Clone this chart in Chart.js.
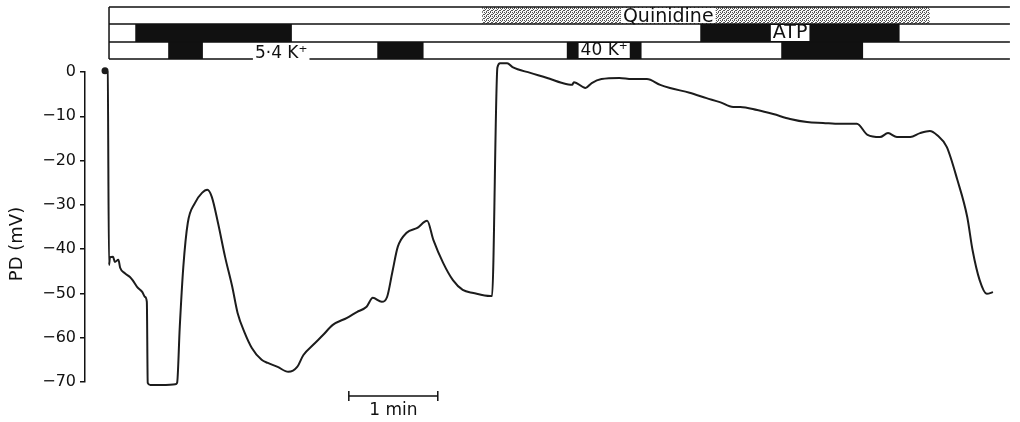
<!DOCTYPE html>
<html>
<head>
<meta charset="utf-8">
<script src="https://cdn.jsdelivr.net/npm/chart.js@4.4.0/dist/chart.umd.min.js"></script>
<style>
	html, body { margin: 0; padding: 0; background: #fff; }
	#wrap { width: 1020px; height: 422px; position: relative; }
</style>
</head>
<body>
<div id="wrap"><canvas id="trace"></canvas></div>
<script>
// time in minutes, potential difference in mV
var timeMin = [0.00, 0.03, 0.045, 0.056, 0.09, 0.11, 0.15, 0.17, 0.22, 0.28, 0.31, 0.36, 0.42, 0.45, 0.47,
	0.48, 0.51, 0.65, 0.79, 0.81, 0.84, 0.88, 0.93, 1.01, 1.09, 1.15, 1.20, 1.27, 1.35, 1.43, 1.49, 1.57, 1.65,
	1.76, 1.83, 1.94, 2.06, 2.16, 2.23, 2.34, 2.45, 2.56, 2.72, 2.83, 2.94, 3.01, 3.11, 3.17, 3.23, 3.29, 3.39,
	3.51, 3.62, 3.69, 3.80, 3.91, 4.02, 4.14, 4.33, 4.35, 4.41, 4.44, 4.52, 4.58, 4.78, 4.97, 5.14, 5.25, 5.27, 5.40,
	5.47, 5.58, 5.78, 5.92, 6.09, 6.24, 6.35, 6.57, 6.76, 6.91, 7.06, 7.14, 7.33, 7.51, 7.70, 7.89, 8.07, 8.26,
	8.45, 8.57, 8.71, 8.80, 8.90, 9.05, 9.16, 9.27, 9.35, 9.46, 9.58, 9.69, 9.75, 9.83, 9.91, 9.98];
var pdMv = [0.3, 0.0, -43.6, -41.8, -41.7, -42.9, -42.4, -44.2, -45.4, -46.3, -47.0, -48.5, -49.7, -50.8, -51.9,
	-70.2, -70.7, -70.7, -70.5, -70.2, -57.6, -44.0, -34.1, -29.6, -27.3, -26.6, -28.2, -34.1, -41.8, -48.5, -54.4, -58.9, -62.3,
	-65.0, -65.7, -66.6, -67.7, -66.6, -63.9, -61.6, -59.4, -57.1, -55.5, -54.2, -53.0, -51.0, -51.9, -50.8, -45.1, -39.5, -36.3,
	-35.2, -33.6, -37.9, -43.1, -47.0, -49.2, -49.9, -50.6, -50.6, 1.0, 2.0, 2.0, 1.1, -0.2, -1.35, -2.5, -2.9, -2.3, -3.6,
	-2.5, -1.6, -1.35, -1.6, -1.6, -2.9, -3.6, -4.7, -5.9, -6.8, -7.9, -7.9, -8.6, -9.5, -10.6, -11.3, -11.5, -11.7,
	-11.7, -14.2, -14.7, -13.8, -14.7, -14.7, -13.8, -13.3, -14.2, -16.9, -24.4, -32.7, -40.2, -47.0, -50.1, -49.7];

var yTicks = [0, -10, -20, -30, -40, -50, -60, -70];

// application periods (min) for the three rows above the trace
var quinidineOn = [[4.24, 9.27]];
var atpOn = [[0.34, 2.10], [6.69, 8.93]];
var potassiumOn = [[0.71, 1.10], [3.06, 3.58], [5.19, 6.03], [7.60, 8.52]];
var stripStart = 0.045, stripEnd = 10.17;
var stripLabels = [
	{ text: 'Quinidine', t: 6.33, row: 0 },
	{ text: 'ATP', t: 7.70, row: 1 },
	{ text: '40 K\u207A', t: 5.61, row: 2 },
	{ text: '5\u00B74 K\u207A', t: 1.98, row: 2 }
];
var scaleBarStart = 2.74, scaleBarLen = 1;

var FONT = '"DejaVu Sans", "Liberation Sans", sans-serif';

function makeStipple(ctx) {
	var c = document.createElement('canvas');
	c.width = 4; c.height = 4;
	var g = c.getContext('2d');
	g.fillStyle = '#fafafa';
	g.fillRect(0, 0, 4, 4);
	g.fillStyle = '#555';
	[[0, 0], [2, 0], [1, 1], [3, 2], [0, 2], [2, 3]].forEach(function(d) {
		g.fillRect(d[0], d[1], 1, 1);
	});
	return ctx.createPattern(c, 'repeat');
}

var stripPlugin = {
	id: 'strip',
	afterDraw: function(chart) {
		var ctx = chart.ctx;
		var xs = chart.scales.x;
		var px = function(t) { return xs.getPixelForValue(t); };
		var rowY = [7, 24, 42, 59];
		var x0 = px(stripStart), x1 = px(stripEnd);
		ctx.save();

		ctx.fillStyle = makeStipple(ctx);
		quinidineOn.forEach(function(p) {
			ctx.fillRect(px(p[0]), rowY[0], px(p[1]) - px(p[0]), rowY[1] - rowY[0]);
		});
		ctx.fillStyle = '#111';
		atpOn.forEach(function(p) {
			ctx.fillRect(px(p[0]), rowY[1], px(p[1]) - px(p[0]), rowY[2] - rowY[1]);
		});
		potassiumOn.forEach(function(p) {
			ctx.fillRect(px(p[0]), rowY[2], px(p[1]) - px(p[0]), rowY[3] - rowY[2]);
		});

		ctx.strokeStyle = '#111';
		ctx.lineWidth = 1.5;
		ctx.beginPath();
		rowY.forEach(function(y) {
			ctx.moveTo(x0, y);
			ctx.lineTo(x1, y);
		});
		ctx.moveTo(x0, rowY[0]);
		ctx.lineTo(x0, rowY[3]);
		ctx.stroke();

		ctx.textAlign = 'center';
		ctx.textBaseline = 'middle';
		stripLabels.forEach(function(l) {
			ctx.font = (l.row === 2 ? '17px ' : '19px ') + FONT;
			var w = ctx.measureText(l.text).width;
			var cx = px(l.t);
			var cy = (rowY[l.row] + rowY[l.row + 1]) / 2 + (l.row === 0 ? 1.5 : 0);
			if (l.text.charAt(0) === '5') cy = 54;
			ctx.fillStyle = '#fff';
			ctx.fillRect(cx - w / 2 - 2, rowY[l.row] + 1, w + 4, (l.text.charAt(0) === '5' ? 63 : rowY[l.row + 1] - 1) - rowY[l.row] - 1);
			ctx.fillStyle = '#111';
			ctx.fillText(l.text, cx, cy);
		});

		// 1 min scale bar
		var bx0 = px(scaleBarStart), bx1 = px(scaleBarStart + scaleBarLen), by = 396;
		ctx.beginPath();
		ctx.moveTo(bx0, by); ctx.lineTo(bx1, by);
		ctx.moveTo(bx0, by - 5); ctx.lineTo(bx0, by + 5);
		ctx.moveTo(bx1, by - 5); ctx.lineTo(bx1, by + 5);
		ctx.stroke();
		ctx.font = '17px ' + FONT;
		ctx.fillText('1 min', (bx0 + bx1) / 2, 411);

		// axis title
		ctx.translate(17, 244);
		ctx.rotate(-Math.PI / 2);
		ctx.font = '18px ' + FONT;
		ctx.fillText('PD (mV)', 0, 0);
		ctx.restore();
	}
};

var points = timeMin.map(function(t, i) { return { x: t, y: pdMv[i] }; });

new Chart(document.getElementById('trace'), {
	type: 'line',
	data: {
		datasets: [{
			data: points,
			borderColor: '#1c1c1c',
			backgroundColor: '#1c1c1c',
			borderWidth: 2,
			pointRadius: function(c) { return c.dataIndex === 0 ? 2.5 : 0; },
			cubicInterpolationMode: 'monotone',
			clip: false
		}]
	},
	options: {
		responsive: true,
		maintainAspectRatio: false,
		animation: false,
		layout: { padding: { top: 72, bottom: 40, right: 23, left: 0 } },
		plugins: { legend: { display: false }, tooltip: { enabled: false } },
		scales: {
			x: { type: 'linear', min: -0.225, max: 10.025, display: false },
			y: {
				min: -70,
				max: 0,
				afterBuildTicks: function(scale) {
					scale.ticks = yTicks.map(function(v) { return { value: v }; });
				},
				afterFit: function(scale) { scale.width = 85; },
				grid: { drawOnChartArea: false, tickLength: 5, color: '#111', lineWidth: 1.5 },
				border: { color: '#111', width: 1.5 },
				ticks: {
					color: '#111',
					padding: 4,
					font: { family: FONT, size: 16 },
					callback: function(v) { return v < 0 ? '\u2212' + Math.abs(v) : String(v); }
				}
			}
		}
	},
	plugins: [stripPlugin]
});
</script>
</body>
</html>
